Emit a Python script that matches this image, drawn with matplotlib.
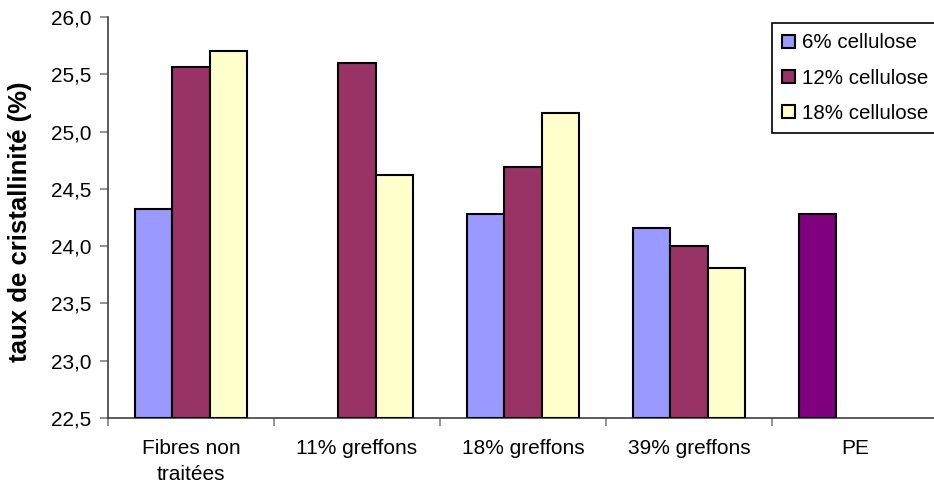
import matplotlib.pyplot as plt
import numpy as np
from matplotlib.patches import Patch

plt.rcParams['font.family'] = ['Liberation Sans', 'DejaVu Sans']

categories = ["Fibres non\ntraitées", "11% greffons", "18% greffons", "39% greffons", "PE"]
series_names = ["6% cellulose", "12% cellulose", "18% cellulose"]
# NaN = no bar (11% greffons has no 6% value, PE handled on its own)
cell6 = [24.32, np.nan, 24.28, 24.16, np.nan]
cell12 = [25.56, 25.60, 24.69, 24.00, np.nan]
cell18 = [25.70, 24.62, 25.16, 23.81, np.nan]
pe_value = 24.28
colors = ["#9999FF", "#993366", "#FFFFCC"]
pe_color = "#800080"

fig = plt.figure(figsize=(9.34, 4.88), dpi=100)
ax = fig.add_axes([108 / 934, 1 - 418 / 488, 830 / 934, 401 / 488])

x = np.arange(len(categories))
w = 0.225
for k, (vals, c) in enumerate(zip([cell6, cell12, cell18], colors)):
    vals = np.array(vals)
    ok = ~np.isnan(vals)
    ax.bar(x[ok] + (k - 1) * w, vals[ok] - 22.5, width=w, bottom=22.5,
           color=c, edgecolor="black", linewidth=1.5, zorder=3)
# PE sits in the first slot with its own colour
ax.bar(x[4] - w, pe_value - 22.5, width=w, bottom=22.5,
       color=pe_color, edgecolor="black", linewidth=1.5, zorder=3)

ax.set_xlim(-0.5, len(categories) - 0.5)
ax.set_ylim(22.5, 26.0)
yt = np.arange(22.5, 26.01, 0.5)
ax.set_yticks(yt)
ax.set_yticklabels([f"{v:.1f}".replace(".", ",") for v in yt], fontsize=15)
ax.set_xticks(x)
ax.set_xticklabels(categories, fontsize=15, linespacing=1.45)
ax.set_xticks(np.arange(-0.5, len(categories)), minor=True)
ax.tick_params(axis="x", which="major", length=0, pad=15)
ax.tick_params(axis="x", which="minor", length=6, color="#808080", width=1.2)
ax.tick_params(axis="y", length=6, color="#808080", width=1.2, pad=6)

for s in ["top", "right"]:
    ax.spines[s].set_visible(False)
for s in ["left", "bottom"]:
    ax.spines[s].set_color("#404040")
    ax.spines[s].set_linewidth(1.2)

ax.set_ylabel("taux de cristallinité (%)", fontsize=18.5, fontweight="bold")
ax.yaxis.set_label_coords(-0.092, 0.49)

handles = [Patch(facecolor=c, edgecolor="black", linewidth=1.5) for c in colors]
leg = ax.legend(handles, series_names, loc="upper left",
                bbox_to_anchor=(772 / 934, 1 - 23 / 488), bbox_transform=fig.transFigure,
                fontsize=14.8, handlelength=0.6, handleheight=0.6, handletextpad=0.35,
                labelspacing=0.8, borderpad=0.5, borderaxespad=0, fancybox=False,
                framealpha=1, edgecolor="black")
leg.get_frame().set_linewidth(1.2)

fig.savefig("out.png", dpi=100)
